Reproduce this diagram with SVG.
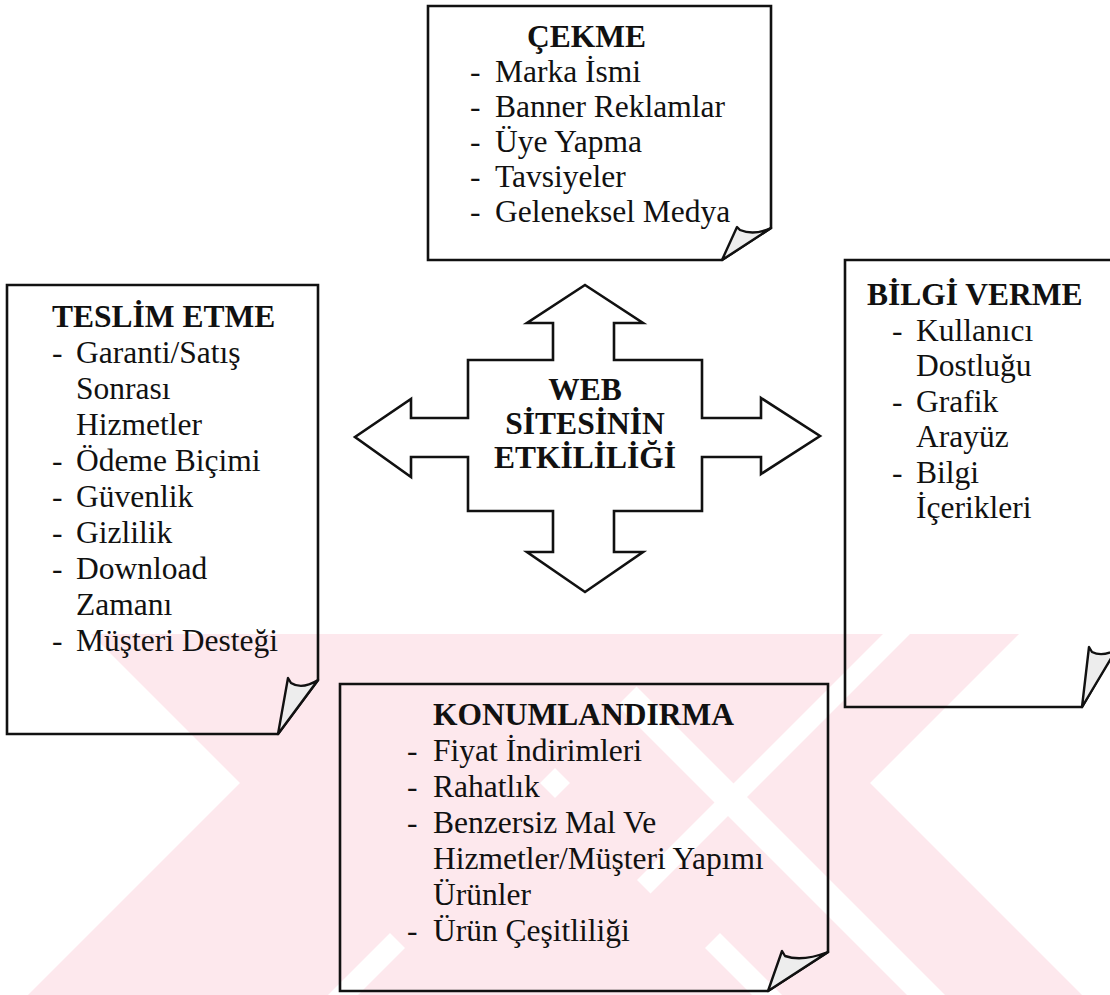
<svg xmlns="http://www.w3.org/2000/svg" width="1110" height="995" viewBox="0 0 1110 995">
<style>
.box{fill:none;stroke:#111;stroke-width:2.6;stroke-linejoin:miter}
.curl{fill:#ededed;stroke:#111;stroke-width:2.4;stroke-linejoin:round}
.arrow{fill:#fff;stroke:#111;stroke-width:2.6;stroke-linejoin:miter}
.t{font-family:"Liberation Serif","Times New Roman",serif;font-size:31.5px;fill:#111}
.b{font-weight:bold}
.c{text-anchor:middle}
.wm{fill:#fde8ed}
.ws{fill:#fff}
</style>
<defs>
<clipPath id="wmclip"><rect x="0" y="634" width="1110" height="361"/></clipPath>
</defs>
<rect width="1110" height="995" fill="#fff"/>
<g id="watermark" clip-path="url(#wmclip)">
<polygon class="wm" points="721,634 1082,995 782,995 421,634"/>
<polygon class="wm" points="1019,634 658,995 358,995 719,634"/>
<polygon class="ws" points="584,634 945,995 907,995 546,634"/>
<polygon class="ws" points="910,634 549,995 522,995 883,634"/>
<polygon class="wm" points="389,634 28,995 328,995 689,634"/>
<polygon class="wm" points="91,634 452,995 752,995 391,634"/>
</g>
<g id="connectors">
<path class="arrow" d="M585,285 L643,323 L614,323 L614,360 L702,360 L702,418 L761,418 L761,398 L820,436 L761,474 L761,457 L702,457 L702,511 L614,511 L614,552 L643,552 L585,592 L527,552 L553,552 L553,511 L468,511 L468,457 L411,457 L411,477 L355,437 L411,399 L411,418 L468,418 L468,360 L553,360 L553,323 L527,323 Z"/>
</g>
<g id="node-center">
<text class="t b c" x="585" y="400">WEB</text>
<text class="t b c" x="585" y="434">SİTESİNİN</text>
<text class="t b c" x="585" y="468">ETKİLİLİĞİ</text>
</g>
<g id="node-cekme">
<path class="box" d="M428,6 H771 V228 L722,260 H428 Z"/>
<path class="curl" d="M771,228 Q754,236 740,230 L737,227 L722,260 Z"/>
<text class="t b" x="527" y="47">ÇEKME</text>
<text class="t" x="470" y="82">-</text><text class="t" x="495" y="82">Marka İsmi</text>
<text class="t" x="470" y="117">-</text><text class="t" x="495" y="117">Banner Reklamlar</text>
<text class="t" x="470" y="152">-</text><text class="t" x="495" y="152">Üye Yapma</text>
<text class="t" x="470" y="187">-</text><text class="t" x="495" y="187">Tavsiyeler</text>
<text class="t" x="470" y="222">-</text><text class="t" x="495" y="222">Geleneksel Medya</text>
</g>
<g id="node-teslim">
<path class="box" d="M7,285 H318 V680 L278,734 H7 Z"/>
<path class="curl" d="M318,680 Q302,690 291,683 L288,678 L278,734 Z"/>
<text class="t b" x="52" y="327">TESLİM ETME</text>
<text class="t" x="52" y="363">-</text><text class="t" x="76" y="363">Garanti/Satış</text>
<text class="t" x="76" y="399">Sonrası</text>
<text class="t" x="76" y="435">Hizmetler</text>
<text class="t" x="52" y="471">-</text><text class="t" x="76" y="471">Ödeme Biçimi</text>
<text class="t" x="52" y="507">-</text><text class="t" x="76" y="507">Güvenlik</text>
<text class="t" x="52" y="543">-</text><text class="t" x="76" y="543">Gizlilik</text>
<text class="t" x="52" y="579">-</text><text class="t" x="76" y="579">Download</text>
<text class="t" x="76" y="615">Zamanı</text>
<text class="t" x="52" y="651">-</text><text class="t" x="76" y="651">Müşteri Desteği</text>
</g>
<g id="node-bilgi">
<path class="box" d="M845,260 H1116 V648 L1082,707 H845 Z"/>
<path class="curl" d="M1116,650 Q1102,657 1092,652 L1089,647 L1082,707 Z"/>
<text class="t b" x="867" y="305">BİLGİ VERME</text>
<text class="t" x="892" y="341">-</text><text class="t" x="916" y="341">Kullanıcı</text>
<text class="t" x="916" y="376">Dostluğu</text>
<text class="t" x="892" y="412">-</text><text class="t" x="916" y="412">Grafik</text>
<text class="t" x="916" y="447">Arayüz</text>
<text class="t" x="892" y="483">-</text><text class="t" x="916" y="483">Bilgi</text>
<text class="t" x="916" y="518">İçerikleri</text>
</g>
<g id="node-konum">
<path class="box" d="M340,684 H828 V952 L768,991 H340 Z"/>
<path class="curl" d="M828,952 Q802,962 785,956 L782,951 L768,991 Z"/>
<text class="t b" x="433" y="725">KONUMLANDIRMA</text>
<text class="t" x="407" y="761">-</text><text class="t" x="433" y="761">Fiyat İndirimleri</text>
<text class="t" x="407" y="797">-</text><text class="t" x="433" y="797">Rahatlık</text>
<text class="t" x="407" y="833">-</text><text class="t" x="433" y="833">Benzersiz Mal Ve</text>
<text class="t" x="433" y="869">Hizmetler/Müşteri Yapımı</text>
<text class="t" x="433" y="905">Ürünler</text>
<text class="t" x="407" y="941">-</text><text class="t" x="433" y="941">Ürün Çeşitliliği</text>
</g>
</svg>
